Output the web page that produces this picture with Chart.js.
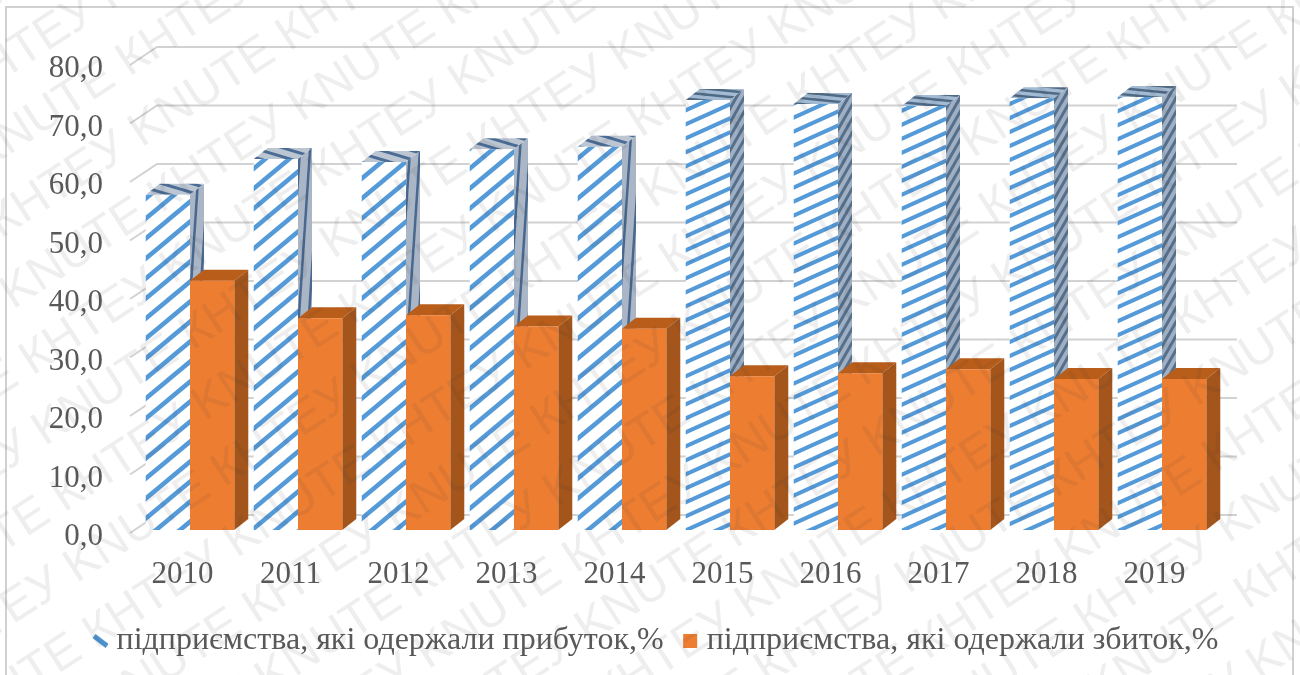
<!DOCTYPE html>
<html>
<head>
<meta charset="utf-8">
<title>Підприємства України</title>
<script src="https://cdn.jsdelivr.net/npm/chart.js@4"></script>
<style>
    html, body { margin: 0; padding: 0; background: #fff; overflow: hidden; }
    #wrap { width: 1300px; height: 675px; }
</style>
</head>
<body>
<div id="wrap"><canvas id="profitChart" width="1300" height="675"></canvas></div>
<script>
// Chart data
const years = ['2010', '2011', '2012', '2013', '2014', '2015', '2016', '2017', '2018', '2019'];
const profitShare = [57.3, 63.4, 62.9, 65.1, 65.5, 73.5, 72.8, 72.5, 73.8, 74.0];
const lossShare = [42.6, 36.2, 36.7, 34.8, 34.4, 26.3, 26.8, 27.5, 25.8, 25.8];
const yTickLabels = ['0,0', '10,0', '20,0', '30,0', '40,0', '50,0', '60,0', '70,0', '80,0'];
const profitLabel = 'підприємства, які одержали прибуток,%';
const lossLabel = 'підприємства, які одержали збиток,%';

const serif = '"Liberation Serif", serif';
const textColor = '#595959';
const gridColor = '#d2d2d2';
const depthX = 14;
const depthY = 11;

// Makes a repeating diagonal stripe fill
function stripes(w, h, bg, fg, lineWidth, falling) {
    const tile = document.createElement('canvas');
    tile.width = w;
    tile.height = h;
    const c = tile.getContext('2d');
    c.fillStyle = bg;
    c.fillRect(0, 0, w, h);
    c.strokeStyle = fg;
    c.lineWidth = lineWidth;
    if (falling) {
        c.translate(0, h);
        c.scale(1, -1);
    }
    for (let i = -1; i <= 1; i++) {
        c.beginPath();
        c.moveTo((i - 1) * w, 2 * h);
        c.lineTo((i + 2) * w, -h);
        c.stroke();
    }
    return c.createPattern(tile, 'repeat');
}

const ctx = document.getElementById('profitChart').getContext('2d');

// The first five years have steeper, wider hatching than the last five
const frontSteep = stripes(24, 20, '#ffffff', '#559ad8', 4.5);
const frontFlat = stripes(31, 14, '#ffffff', '#559ad8', 4);
const sideSteep = stripes(10, 150, '#aab6c6', '#48688f', 2.5);
const sideFlat = stripes(8, 14, '#9fb0c4', '#566f8a', 3);
const topSteep = stripes(30, 9, '#bcc6d3', '#4a6c95', 3, true);
const topFlat = stripes(60, 6, '#a3bad3', '#4f6a85', 2.5, true);

const profitFronts = years.map((y, i) => i < 5 ? frontSteep : frontFlat);

// Small slanted stroke used as the legend key of the hatched series
function legendStroke() {
    const key = document.createElement('canvas');
    key.width = 16;
    key.height = 14;
    const c = key.getContext('2d');
    c.strokeStyle = '#4d92d0';
    c.lineWidth = 5;
    c.beginPath();
    c.moveTo(2, 2);
    c.lineTo(15, 12);
    c.stroke();
    return key;
}

function legendSquare() {
    const key = document.createElement('canvas');
    key.width = 16;
    key.height = 14;
    const c = key.getContext('2d');
    c.fillStyle = '#ed7d31';
    c.fillRect(1, 0, 14, 14);
    return key;
}

// Side and top faces of one bar
function drawFaces(c, bar, topFill, sideFill) {
    const left = bar.x - bar.width / 2;
    const right = bar.x + bar.width / 2;
    c.fillStyle = topFill;
    c.beginPath();
    c.moveTo(left, bar.y);
    c.lineTo(left + depthX, bar.y - depthY);
    c.lineTo(right + depthX, bar.y - depthY);
    c.lineTo(right, bar.y);
    c.closePath();
    c.fill();
    c.fillStyle = sideFill;
    c.beginPath();
    c.moveTo(right, bar.y);
    c.lineTo(right + depthX, bar.y - depthY);
    c.lineTo(right + depthX, bar.base - depthY);
    c.lineTo(right, bar.base);
    c.closePath();
    c.fill();
}

// Back wall lines with their diagonal stubs, then the bar depth faces
const wallAndDepth = {
    id: 'wallAndDepth',
    beforeDatasetsDraw(chart) {
        const scale = chart.scales.y;
        const c = chart.ctx;
        c.save();
        c.strokeStyle = gridColor;
        c.lineWidth = 2;
        scale.ticks.forEach(tick => {
            const y = scale.getPixelForValue(tick.value);
            c.beginPath();
            c.moveTo(130, y + 3);
            c.lineTo(157, y - 15);
            c.lineTo(1237, y - 15);
            c.stroke();
        });
        chart.getDatasetMeta(0).data.forEach((bar, i) => {
            drawFaces(c, bar, i < 5 ? topSteep : topFlat, i < 5 ? sideSteep : sideFlat);
        });
        chart.getDatasetMeta(1).data.forEach(bar => {
            drawFaces(c, bar, '#b85d1a', '#a3551b');
        });
        c.restore();
    }
};

// Frame and the diagonal watermark over the whole canvas
const overlay = {
    id: 'overlay',
    afterLayout(chart) {
        // legend sits to the right of the canvas centre
        chart.legend.left += 51;
        chart.legend.right += 51;
    },
    beforeDraw(chart) {
        const c = chart.ctx;
        c.save();
        c.strokeStyle = '#d0d0d0';
        c.lineWidth = 2;
        c.strokeRect(6, 7, 1287, 680);
        c.restore();
    },
    afterDraw(chart) {
        const c = chart.ctx;
        c.save();
        c.translate(1233, 210);
        c.rotate(-33 * Math.PI / 180);
        c.font = '48px "Liberation Sans", sans-serif';
        c.fillStyle = 'rgba(60, 60, 60, 0.085)';
        c.textBaseline = 'middle';
        const pair = 'КНТЕУ KNUTE ';
        const period = c.measureText(pair).width;
        for (let row = -14; row <= 8; row++) {
            const shift = -24 * row + (Math.abs(row) % 2 ? period / 2 : 0);
            c.fillText(pair.repeat(12), shift - 6.75 * period, row * 66);
        }
        c.restore();
    }
};

new Chart(ctx, {
    type: 'bar',
    data: {
        labels: years,
        datasets: [
            { label: profitLabel, data: profitShare, backgroundColor: profitFronts, pointStyle: legendStroke() },
            { label: lossLabel, data: lossShare, backgroundColor: '#ed7d31', pointStyle: legendSquare() }
        ]
    },
    options: {
        responsive: false,
        animation: false,
        layout: { padding: { left: 0, right: 84, top: 62, bottom: 8 } },
        datasets: { bar: { categoryPercentage: 0.82, barPercentage: 1 } },
        scales: {
            x: {
                grid: { display: false },
                border: { display: false },
                afterFit(scale) { scale.height = 69; },
                ticks: {
                    color: textColor,
                    font: { family: serif, size: 31 },
                    padding: 18,
                    labelOffset: -7.5,
                    maxRotation: 0,
                    autoSkip: false
                }
            },
            y: {
                min: 0,
                max: 80,
                grid: { display: false },
                border: { display: false },
                afterFit(scale) { scale.width = 136; },
                ticks: {
                    stepSize: 10,
                    color: textColor,
                    font: { family: serif, size: 31 },
                    padding: 25,
                    labelOffset: 7,
                    callback: (value, index) => yTickLabels[index]
                }
            }
        },
        plugins: {
            tooltip: { enabled: false },
            legend: {
                position: 'bottom',
                labels: {
                    color: textColor,
                    font: { family: serif, size: 32 },
                    usePointStyle: true,
                    pointStyleWidth: 1,
                    padding: 26
                }
            }
        }
    },
    plugins: [overlay, wallAndDepth]
});
</script>
</body>
</html>
